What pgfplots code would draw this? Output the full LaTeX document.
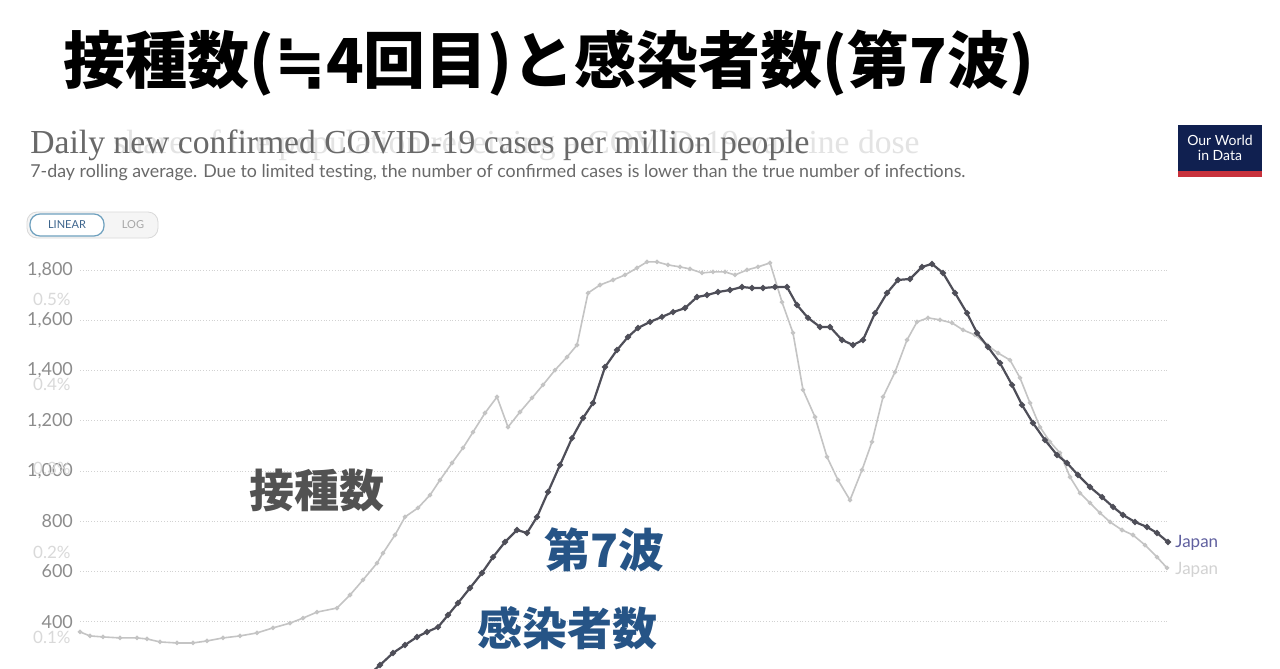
\documentclass[border=0pt]{standalone}
\usepackage{fontspec}
\setmainfont{Lato}
\newfontfamily\cjk{Noto Sans CJK JP}
\newfontfamily\dejavu{DejaVu Sans}
\newfontfamily\serif{Liberation Serif}
\usepackage{pgfplots}
\pgfplotsset{compat=1.18}
\definecolor{darkline}{RGB}{78,78,88}
\definecolor{lightline}{RGB}{196,196,196}
\definecolor{blueann}{RGB}{38,84,134}
\definecolor{owidnavy}{RGB}{16,32,80}
\definecolor{owidred}{RGB}{200,50,60}
\definecolor{tickgray}{RGB}{140,140,140}
\definecolor{subgray}{RGB}{105,105,105}
\definecolor{btnblue}{RGB}{110,160,190}
\definecolor{btntext}{RGB}{60,100,140}
\begin{document}
\begin{tikzpicture}[x=0.5pt,y=-0.5pt]
\path[fill=white] (0,0) rectangle (1280,669);
% title
\node[anchor=west,inner sep=0pt,font=\cjk\bfseries\fontsize{31}{36}\selectfont] at (63,63) {接種数({\dejavu\bfseries ≒}4回目)と感染者数(第7波)};
% ghost subtitle of the overlaid chart
\node[anchor=west,inner sep=0pt,text=gray!22,font=\serif\fontsize{16.8}{20}\selectfont] at (30,145) {Daily share of the population receiving a COVID-19 vaccine dose};
\node[anchor=west,inner sep=0pt,text=subgray,font=\serif\fontsize{16.8}{20}\selectfont] at (30,145) {Daily new confirmed COVID-19 cases per million people};
\node[anchor=west,inner sep=0pt,text=subgray,font=\fontsize{8.9}{10}\selectfont] at (30,173) {7-day rolling average. Due to limited testing, the number of confirmed cases is lower than the true number of infections.};
% linear/log buttons
\draw[gray!30,fill=gray!8,rounded corners=5pt] (27,212) rectangle (158,238);
\draw[draw=btnblue,fill=white,rounded corners=5pt,line width=0.6pt] (30,214) rectangle (104,236);
\node[text=btntext,font=\fontsize{5.5}{6}\selectfont] at (67,225) {LINEAR};
\node[text=gray!70,font=\fontsize{5.5}{6}\selectfont] at (133,225) {LOG};
% OWID logo
\fill[owidnavy] (1178,125) rectangle (1262,177);
\fill[owidred] (1178,171) rectangle (1262,177);
\node[text=white,align=center,font=\fontsize{7}{7.5}\selectfont,inner sep=0pt] at (1220,148) {Our World\\in Data};
\begin{axis}[
  at={(40pt,-334.5pt)}, anchor=south west,
  scale only axis, width=544pt, height=209.5pt,
  xmin=80, xmax=1168, ymin=211.2, ymax=1880.4,
  clip mode=individual,
  axis line style={draw=none}, tick style={draw=none},
  xtick=\empty, ytick={400,600,...,1800},
  ymajorgrids, grid style={densely dotted, gray!35, line width=0.5pt},
  yticklabel style={font=\fontsize{9}{10}\selectfont, text=tickgray},
  /pgf/number format/.cd, 1000 sep={,}, assume math mode=true
]
\addplot[lightline, line width=0.8pt, mark=*, mark size=0.7pt] coordinates {
(80,359)(90,343)(103,339)(120,335)(137,335)(147,331)(160,319)(177,315)(193,315)(207,323)
(223,335)(240,343)(257,355)(273,375)(290,394)(303,414)(317,438)(337,454)(350,506)(363,566)
(377,633)(383,673)(395,745)(405,817)(418,853)(430,904)(440,964)(452,1032)(463,1092)(473,1155)
(485,1231)(497,1295)(508,1175)(520,1235)(532,1291)(543,1343)(555,1402)(567,1454)(577,1502)(588,1709)
(600,1741)(613,1761)(625,1781)(637,1809)(647,1833)(657,1833)(668,1821)(680,1813)(690,1805)(702,1789)
(713,1793)(725,1793)(735,1781)(747,1801)(758,1813)(770,1829)(782,1673)(793,1550)(803,1323)(815,1215)
(827,1056)(838,964)(850,884)(862,1004)(872,1116)(883,1295)(895,1394)(907,1522)(917,1594)(928,1610)
(940,1602)(952,1590)(963,1562)(975,1542)(987,1502)(998,1470)(1010,1442)(1020,1371)(1030,1271)(1040,1175)
(1050,1116)(1060,1072)(1070,976)(1080,912)(1090,873)(1100,833)(1110,797)(1122,765)(1133,745)(1145,705)
(1157,657)(1167,614)
};
\addplot[darkline, line width=1.1pt, mark=*, mark size=0.9pt] coordinates {
(372,199)(380,227)(393,275)(405,307)(417,339)(427,359)(438,378)(448,426)(458,474)(470,534)
(482,594)(493,657)(505,717)(517,765)(527,753)(537,817)(548,916)(560,1024)(572,1131)(583,1211)
(593,1271)(605,1414)(617,1482)(628,1534)(638,1570)(650,1594)(662,1614)(673,1633)(685,1649)(697,1693)
(707,1701)(718,1713)(730,1721)(742,1733)(752,1729)(763,1729)(775,1733)(787,1733)(797,1661)(808,1610)
(820,1574)(830,1574)(842,1522)(853,1502)(863,1522)(875,1629)(887,1709)(898,1761)(910,1765)(922,1813)
(932,1825)(943,1789)(955,1709)(967,1629)(977,1550)(988,1494)(1000,1430)(1012,1343)(1022,1263)(1033,1191)
(1045,1123)(1057,1064)(1067,1032)(1078,984)(1090,936)(1102,896)(1113,857)(1123,825)(1135,797)(1147,777)
(1157,753)(1168,717)
};
\end{axis}
% right-axis percentages of the overlaid chart
\foreach \p/\yy in {0.1/637,0.2/552,0.3/468,0.4/384,0.5/299}
  \node[anchor=east,inner sep=0pt,text=gray!30,font=\fontsize{8.5}{9}\selectfont] at (71,\yy) {\p\%};
% series labels
\node[anchor=west,inner sep=0pt,text=gray!75!blue,font=\fontsize{8.5}{9}\selectfont] at (1175,543) {Japan};
\node[anchor=west,inner sep=0pt,text=gray!35,font=\fontsize{8.5}{9}\selectfont] at (1175,570) {Japan};
% annotations
\node[anchor=west,inner sep=0pt,text=black!68,font=\cjk\bfseries\fontsize{22.5}{26}\selectfont] at (249,490) {接種数};
\node[anchor=west,inner sep=0pt,text=blueann,font=\cjk\bfseries\fontsize{23}{26}\selectfont] at (544,550) {第7波};
\node[anchor=west,inner sep=0pt,text=blueann,font=\cjk\bfseries\fontsize{22.5}{26}\selectfont] at (477,628) {感染者数};
\end{tikzpicture}
\end{document}
